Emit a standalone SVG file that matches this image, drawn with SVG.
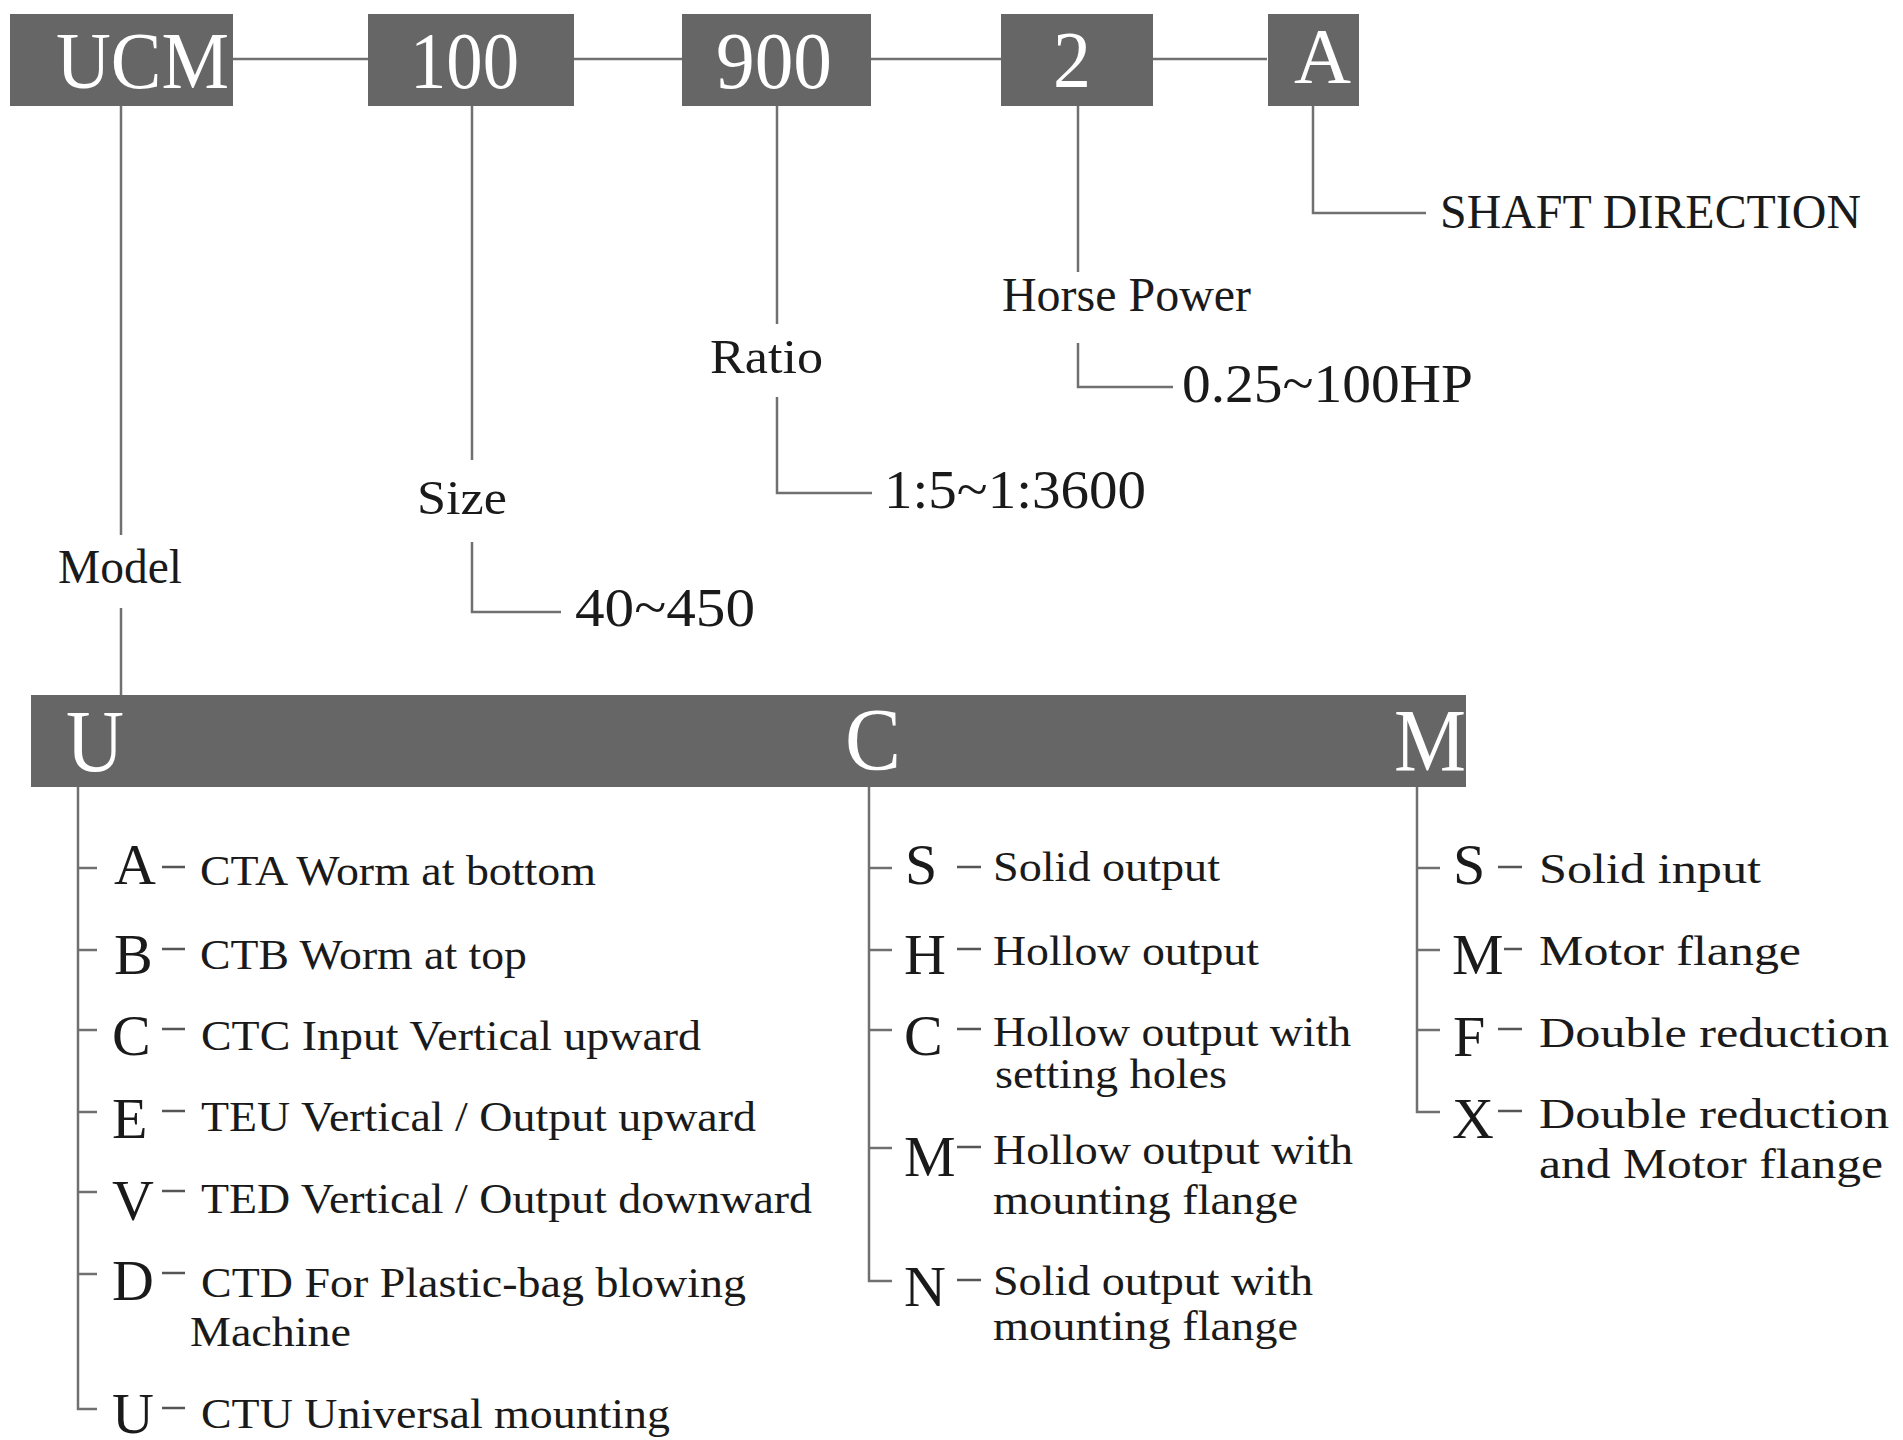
<svg xmlns="http://www.w3.org/2000/svg" width="1903" height="1440" viewBox="0 0 1903 1440">
<style>
.box{fill:#666666}
.bt{fill:#ffffff;font-family:"Liberation Serif","Times New Roman",serif}
.ln{stroke:#707070;stroke-width:2.5;fill:none}
.dl{stroke:#555555;stroke-width:2.5;fill:none}
.t{fill:#1a1a1a;font-family:"Liberation Serif","Times New Roman",serif}
.lb{font-size:48px}
.rg{font-size:55px}
.k{font-size:58px}
.d{font-size:43px}
</style>
<rect width="1903" height="1440" fill="#ffffff"/>

<g id="connectors">
  <path class="ln" d="M233 59H368M574 59H682M871 59H1001M1153 59H1267"/>
  <path class="ln" d="M121 106V535M121 608V695"/>
  <path class="ln" d="M472 106V460M472 542V612H561"/>
  <path class="ln" d="M777 106V324M777 397V493H872"/>
  <path class="ln" d="M1078 106V272M1078 343V387H1173"/>
  <path class="ln" d="M1313 106V213H1426"/>
  <path class="ln" d="M78 787V1409H97M78 868H97M78 950H97M78 1030H97M78 1112H97M78 1192H97M78 1274H97"/>
  <path class="ln" d="M869 787V1281H892M869 868H892M869 950H892M869 1030H892M869 1148H892"/>
  <path class="ln" d="M1417 787V1112H1440M1417 868H1440M1417 950H1440M1417 1030H1440"/>
</g>

<g id="node-ucm">
  <rect class="box" x="10" y="14" width="223" height="92"/>
  <text class="bt" x="56" y="88" font-size="80" textLength="173" lengthAdjust="spacingAndGlyphs">UCM</text>
</g>
<g id="node-100">
  <rect class="box" x="368" y="14" width="206" height="92"/>
  <text class="bt" x="410" y="88" font-size="80" textLength="109" lengthAdjust="spacingAndGlyphs">100</text>
</g>
<g id="node-900">
  <rect class="box" x="682" y="14" width="189" height="92"/>
  <text class="bt" x="716" y="88" font-size="80" textLength="116" lengthAdjust="spacingAndGlyphs">900</text>
</g>
<g id="node-2">
  <rect class="box" x="1001" y="14" width="152" height="92"/>
  <text class="bt" x="1053" y="87" font-size="80" textLength="38" lengthAdjust="spacingAndGlyphs">2</text>
</g>
<g id="node-A">
  <rect class="box" x="1268" y="14" width="91" height="92"/>
  <text class="bt" x="1294" y="82" font-size="78" textLength="57" lengthAdjust="spacingAndGlyphs">A</text>
</g>

<g id="label-model"><text class="t lb" x="58" y="583" textLength="124" lengthAdjust="spacingAndGlyphs">Model</text></g>
<g id="label-size"><text class="t lb" x="417" y="514" textLength="90" lengthAdjust="spacingAndGlyphs">Size</text></g>
<g id="value-size"><text class="t rg" x="575" y="626" textLength="180" lengthAdjust="spacingAndGlyphs">40~450</text></g>
<g id="label-ratio"><text class="t lb" x="710" y="373" textLength="113" lengthAdjust="spacingAndGlyphs">Ratio</text></g>
<g id="value-ratio"><text class="t rg" x="884" y="508" textLength="262" lengthAdjust="spacingAndGlyphs">1:5~1:3600</text></g>
<g id="label-hp"><text class="t lb" x="1002" y="311" textLength="249" lengthAdjust="spacingAndGlyphs">Horse Power</text></g>
<g id="value-hp"><text class="t rg" x="1182" y="402" textLength="291" lengthAdjust="spacingAndGlyphs">0.25~100HP</text></g>
<g id="label-shaft"><text class="t lb" x="1440" y="228" textLength="421" lengthAdjust="spacingAndGlyphs">SHAFT DIRECTION</text></g>

<g id="node-model-bar">
  <rect class="box" x="31" y="695" width="1435" height="92"/>
  <text class="bt" x="66" y="771" font-size="88" textLength="58" lengthAdjust="spacingAndGlyphs">U</text>
  <text class="bt" x="845" y="769" font-size="88" textLength="56" lengthAdjust="spacingAndGlyphs">C</text>
  <text class="bt" x="1394" y="770" font-size="88" textLength="72" lengthAdjust="spacingAndGlyphs">M</text>
</g>

<g id="col-u">
  <path class="dl" d="M162 867H185M162 949H185M162 1029H185M162 1111H185M162 1191H185M162 1273H185M162 1408H185"/>
  <g id="u-A"><text class="t k" x="114" y="884">A</text><text class="t d" x="200" y="885" textLength="396" lengthAdjust="spacingAndGlyphs">CTA Worm at bottom</text></g>
  <g id="u-B"><text class="t k" x="114" y="974">B</text><text class="t d" x="200" y="969" textLength="327" lengthAdjust="spacingAndGlyphs">CTB Worm at top</text></g>
  <g id="u-C"><text class="t k" x="112" y="1055">C</text><text class="t d" x="201" y="1050" textLength="500" lengthAdjust="spacingAndGlyphs">CTC Input Vertical upward</text></g>
  <g id="u-E"><text class="t k" x="112" y="1138">E</text><text class="t d" x="201" y="1131" textLength="555" lengthAdjust="spacingAndGlyphs">TEU Vertical / Output upward</text></g>
  <g id="u-V"><text class="t k" x="112" y="1220">V</text><text class="t d" x="201" y="1213" textLength="611" lengthAdjust="spacingAndGlyphs">TED Vertical / Output downward</text></g>
  <g id="u-D"><text class="t k" x="112" y="1300">D</text><text class="t d" x="201" y="1297" textLength="545" lengthAdjust="spacingAndGlyphs">CTD For Plastic-bag blowing</text><text class="t d" x="190" y="1346" textLength="161" lengthAdjust="spacingAndGlyphs">Machine</text></g>
  <g id="u-U"><text class="t k" x="112" y="1433">U</text><text class="t d" x="201" y="1428" textLength="469" lengthAdjust="spacingAndGlyphs">CTU Universal mounting</text></g>
</g>

<g id="col-c">
  <path class="dl" d="M957 867H981M957 949H981M957 1029H981M957 1147H981M957 1280H981"/>
  <g id="c-S"><text class="t k" x="905" y="884">S</text><text class="t d" x="993" y="881" textLength="227" lengthAdjust="spacingAndGlyphs">Solid output</text></g>
  <g id="c-H"><text class="t k" x="904" y="974">H</text><text class="t d" x="993" y="965" textLength="266" lengthAdjust="spacingAndGlyphs">Hollow output</text></g>
  <g id="c-C"><text class="t k" x="904" y="1055">C</text><text class="t d" x="993" y="1046" textLength="358" lengthAdjust="spacingAndGlyphs">Hollow output with</text><text class="t d" x="995" y="1088" textLength="232" lengthAdjust="spacingAndGlyphs">setting holes</text></g>
  <g id="c-M"><text class="t k" x="904" y="1176">M</text><text class="t d" x="993" y="1164" textLength="360" lengthAdjust="spacingAndGlyphs">Hollow output with</text><text class="t d" x="993" y="1214" textLength="305" lengthAdjust="spacingAndGlyphs">mounting flange</text></g>
  <g id="c-N"><text class="t k" x="904" y="1306">N</text><text class="t d" x="993" y="1295" textLength="320" lengthAdjust="spacingAndGlyphs">Solid output with</text><text class="t d" x="993" y="1340" textLength="305" lengthAdjust="spacingAndGlyphs">mounting flange</text></g>
</g>

<g id="col-m">
  <path class="dl" d="M1498 867H1522M1504 949H1522M1498 1029H1522M1498 1111H1522"/>
  <g id="m-S"><text class="t k" x="1453" y="884">S</text><text class="t d" x="1539" y="883" textLength="222" lengthAdjust="spacingAndGlyphs">Solid input</text></g>
  <g id="m-M"><text class="t k" x="1452" y="974">M</text><text class="t d" x="1539" y="965" textLength="262" lengthAdjust="spacingAndGlyphs">Motor flange</text></g>
  <g id="m-F"><text class="t k" x="1453" y="1056">F</text><text class="t d" x="1539" y="1047" textLength="350" lengthAdjust="spacingAndGlyphs">Double reduction</text></g>
  <g id="m-X"><text class="t k" x="1452" y="1138">X</text><text class="t d" x="1539" y="1128" textLength="350" lengthAdjust="spacingAndGlyphs">Double reduction</text><text class="t d" x="1539" y="1178" textLength="344" lengthAdjust="spacingAndGlyphs">and Motor flange</text></g>
</g>
</svg>
